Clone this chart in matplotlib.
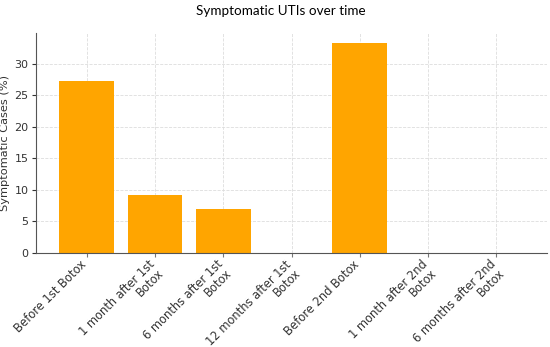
import matplotlib.pyplot as plt
from matplotlib.transforms import ScaledTranslation

categories = [
    "Before 1st Botox",
    "1 month after 1st\nBotox",
    "6 months after 1st\nBotox",
    "12 months after 1st\nBotox",
    "Before 2nd Botox",
    "1 month after 2nd\nBotox",
    "6 months after 2nd\nBotox",
]
symptomatic_pct = [27.3, 9.1, 7.0, 0.0, 33.3, 0.0, 0.0]
y_ticks = [0, 5, 10, 15, 20, 25, 30]

fig = plt.figure(figsize=(5.5, 3.47), dpi=100)
ax = fig.add_axes([0.0655, 0.2717, 0.929, 0.6346])

ax.bar(range(len(categories)), symptomatic_pct, width=0.8, color="#FFA500", zorder=2)
ax.set_xticks(range(len(categories)))
ax.set_xticklabels(categories, rotation=45, ha="right", va="top",
                   rotation_mode="anchor", multialignment="right",
                   fontsize=8.3, color="#333333", linespacing=1.0)
ax.set_yticks(y_ticks)
ax.tick_params(axis="y", labelsize=8, colors="#333333", pad=2.5, length=3)
ax.tick_params(axis="x", colors="#777777", labelcolor="#333333", length=3)
ax.set_ylabel("Symptomatic Cases (%)", fontsize=8.2, color="#333333", labelpad=3)
fig.suptitle("Symptomatic UTIs over time", fontsize=9.7, family="Lato", x=0.51, y=0.985)

# nudge the rotated labels so the first line ends just under each tick
shift = ScaledTranslation(-0.07, 0.04, fig.dpi_scale_trans)
for lbl in ax.get_xticklabels():
    lbl.set_transform(lbl.get_transform() + shift)

ax.grid(True, linestyle="--", color="#dddddd", linewidth=0.6, zorder=0)
ax.spines["top"].set_visible(False)
ax.spines["right"].set_visible(False)
ax.spines["left"].set_color("#555555")
ax.spines["bottom"].set_color("#555555")

fig.savefig("out.png", dpi=100)
